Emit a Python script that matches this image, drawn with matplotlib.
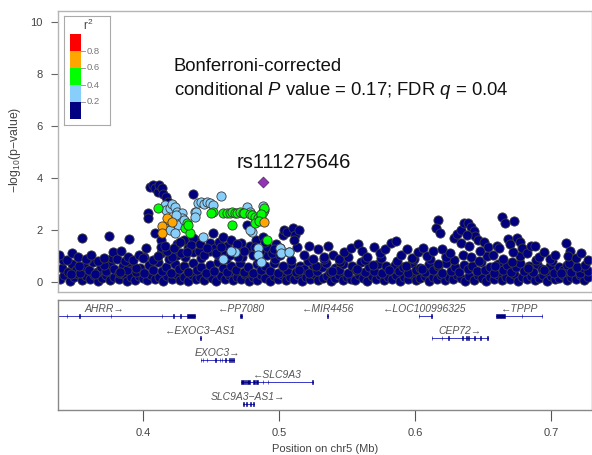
import matplotlib
matplotlib.use("Agg")
import matplotlib.pyplot as plt
from matplotlib.patches import Rectangle

plt.rcParams["font.family"] = ["Liberation Sans", "DejaVu Sans"]
plt.rcParams["mathtext.fontset"] = "custom"
plt.rcParams["mathtext.rm"] = "Liberation Sans"
plt.rcParams["mathtext.it"] = "Liberation Sans:italic"

#------- association data (position in Mb, -log10 p) -------#

# r2 < 0.2 : dense lower band
navy_low_x = [0.339, 0.342, 0.346, 0.349, 0.352, 0.355, 0.358, 0.361, 0.364, 0.367, 0.370, 0.373,
              0.376, 0.379, 0.382, 0.385, 0.388, 0.391, 0.394, 0.397, 0.400, 0.403, 0.406, 0.409,
              0.412, 0.415, 0.418, 0.421, 0.424, 0.427, 0.430, 0.433, 0.436, 0.439, 0.442, 0.445,
              0.448, 0.451, 0.454, 0.457, 0.460, 0.463, 0.466, 0.469, 0.472, 0.475, 0.478, 0.481,
              0.484, 0.487, 0.490, 0.493, 0.496, 0.499, 0.502, 0.505, 0.508, 0.511, 0.514, 0.517,
              0.520, 0.523, 0.526, 0.529, 0.532, 0.535, 0.538, 0.541, 0.544, 0.547, 0.550, 0.553,
              0.556, 0.559, 0.562, 0.565, 0.568, 0.571, 0.574, 0.577, 0.580, 0.583, 0.586, 0.589,
              0.592, 0.595, 0.598, 0.601, 0.604, 0.607, 0.610, 0.613, 0.616, 0.619, 0.622, 0.625,
              0.628, 0.631, 0.634, 0.637, 0.640, 0.643, 0.646, 0.649, 0.652, 0.655, 0.658, 0.661,
              0.664, 0.667, 0.670, 0.673, 0.676, 0.679, 0.682, 0.685, 0.688, 0.691, 0.694, 0.697,
              0.700, 0.703, 0.706, 0.709, 0.712, 0.715, 0.718, 0.721, 0.724, 0.727]
navy_low_y = [0.12, 0.25, 0.05, 0.18, 0.30, 0.08, 0.22, 0.10, 0.28, 0.04, 0.16, 0.26,
              0.07, 0.20, 0.12, 0.29, 0.03, 0.18, 0.09, 0.24, 0.14, 0.06, 0.27, 0.11,
              0.20, 0.05, 0.23, 0.13, 0.30, 0.08, 0.19, 0.04, 0.25, 0.12, 0.21, 0.07,
              0.28, 0.15, 0.03, 0.22, 0.10, 0.27, 0.06, 0.18, 0.12, 0.29, 0.05, 0.20,
              0.09, 0.25, 0.14, 0.04, 0.22, 0.11, 0.28, 0.07, 0.19, 0.13, 0.26, 0.05,
              0.21, 0.10, 0.30, 0.08, 0.17, 0.24, 0.04, 0.15, 0.27, 0.09, 0.20, 0.12,
              0.06, 0.25, 0.14, 0.03, 0.22, 0.10, 0.28, 0.07, 0.18, 0.13, 0.26, 0.05,
              0.21, 0.11, 0.29, 0.08, 0.16, 0.23, 0.04, 0.19, 0.12, 0.27, 0.06, 0.20,
              0.10, 0.25, 0.14, 0.03, 0.22, 0.09, 0.28, 0.16, 0.05, 0.21, 0.12, 0.26,
              0.07, 0.18, 0.11, 0.29, 0.04, 0.20, 0.13, 0.24, 0.08, 0.17, 0.27, 0.05,
              0.22, 0.10, 0.15, 0.26, 0.06, 0.19, 0.12, 0.28, 0.09, 0.21]

navy_mid_x = [0.3405, 0.3445, 0.3475, 0.3505, 0.3535, 0.3565, 0.3600, 0.3630, 0.3660, 0.3690,
              0.3725, 0.3755, 0.3790, 0.3820, 0.3850, 0.3885, 0.3915, 0.3950, 0.3980, 0.4010,
              0.4045, 0.4075, 0.4110, 0.4140, 0.4170, 0.4205, 0.4235, 0.4265, 0.4300, 0.4330,
              0.4365, 0.4395, 0.4425, 0.4460, 0.4490, 0.4520, 0.4555, 0.4585, 0.4615, 0.4650,
              0.4680, 0.4710, 0.4745, 0.4775, 0.4805, 0.4840, 0.4870, 0.4900, 0.4935, 0.4965,
              0.4995, 0.5030, 0.5060, 0.5090, 0.5125, 0.5155, 0.5185, 0.5220, 0.5250, 0.5280,
              0.5315, 0.5345, 0.5375, 0.5410, 0.5440, 0.5470, 0.5505, 0.5535, 0.5565, 0.5600,
              0.5630, 0.5660, 0.5695, 0.5725, 0.5755, 0.5790, 0.5820, 0.5850, 0.5885, 0.5915,
              0.5945, 0.5980, 0.6010, 0.6040, 0.6075, 0.6105, 0.6135, 0.6170, 0.6200, 0.6230,
              0.6265, 0.6295, 0.6325, 0.6360, 0.6390, 0.6420, 0.6455, 0.6485, 0.6515, 0.6550,
              0.6580, 0.6610, 0.6645, 0.6675, 0.6705, 0.6740, 0.6770, 0.6800, 0.6835, 0.6865,
              0.6895, 0.6930, 0.6960, 0.6990, 0.7025, 0.7055, 0.7085, 0.7120, 0.7150, 0.7180,
              0.7215, 0.7245, 0.7275]
navy_mid_y = [0.55, 0.40, 0.70, 0.48, 0.35, 0.62, 0.45, 0.75, 0.38, 0.58,
              0.42, 0.68, 0.50, 0.36, 0.60, 0.46, 0.72, 0.40, 0.55, 0.34,
              0.65, 0.48, 0.78, 0.42, 0.58, 0.36, 0.70, 0.50, 0.62, 0.40,
              0.74, 0.46, 0.56, 0.35, 0.66, 0.44, 0.76, 0.52, 0.38, 0.62,
              0.45, 0.72, 0.40, 0.58, 0.34, 0.68, 0.48, 0.60, 0.42, 0.74,
              0.36, 0.56, 0.46, 0.70, 0.39, 0.62, 0.50, 0.34, 0.66, 0.44,
              0.58, 0.72, 0.38, 0.54, 0.46, 0.68, 0.36, 0.60, 0.48, 0.76,
              0.40, 0.56, 0.44, 0.70, 0.35, 0.62, 0.50, 0.66, 0.42, 0.58,
              0.36, 0.72, 0.46, 0.54, 0.40, 0.68, 0.48, 0.60, 0.34, 0.74,
              0.44, 0.56, 0.38, 0.66, 0.50, 0.62, 0.42, 0.78, 0.46, 0.58,
              0.36, 0.70, 0.48, 0.64, 0.40, 0.56, 0.72, 0.44, 0.60, 0.38,
              0.68, 0.50, 0.42, 0.62, 0.36, 0.56, 0.46, 0.66, 0.40, 0.58,
              0.34, 0.52, 0.44]

navy_band_x = [0.3410, 0.3470, 0.3530, 0.3590, 0.3650, 0.3710, 0.3770, 0.3830, 0.3890, 0.3950,
               0.4010, 0.4070, 0.4130, 0.4190, 0.4250, 0.4310, 0.4370, 0.4430, 0.4490, 0.4550,
               0.4610, 0.4670, 0.4730, 0.4790, 0.4850, 0.4910, 0.4970, 0.5030, 0.5090, 0.5150,
               0.5210, 0.5270, 0.5330, 0.5390, 0.5450, 0.5510, 0.5570, 0.5630, 0.5690, 0.5750,
               0.5810, 0.5870, 0.5930, 0.5990, 0.6050, 0.6110, 0.6170, 0.6230, 0.6290, 0.6350,
               0.6410, 0.6470, 0.6530, 0.6590, 0.6650, 0.6710, 0.6770, 0.6830, 0.6890, 0.6950,
               0.7010, 0.7070, 0.7130, 0.7190, 0.7250]
navy_band_y = [0.85, 0.32, 0.60, 0.88, 0.30, 0.66, 0.92, 0.40, 0.78, 0.52,
               0.95, 0.86, 1.10, 0.90, 1.05, 0.98, 1.15, 0.92, 1.20, 1.02,
               0.88, 1.10, 0.95, 1.25, 0.82, 1.05, 0.90, 0.60, 0.85, 0.48,
               0.80, 0.62, 0.90, 0.42, 0.78, 0.95, 0.50, 0.84, 0.66, 0.92,
               0.45, 0.80, 0.62, 0.88, 0.50, 0.90, 0.70, 1.00, 0.84, 1.05,
               0.95, 0.82, 1.00, 0.60, 0.90, 0.75, 1.00, 0.55, 0.85, 0.48,
               0.80, 0.35, 0.72, 0.58, 0.66]

navy_up_x = [0.3386, 0.3440, 0.3480, 0.3520, 0.3550, 0.3580, 0.3620, 0.3670, 0.3710, 0.3750,
             0.3780, 0.3810, 0.3840, 0.3870, 0.3890, 0.3900, 0.3930, 0.3970, 0.4000, 0.4025,
             0.4040, 0.4040, 0.4050, 0.4070, 0.4090, 0.4110, 0.4120, 0.4140, 0.4150, 0.4170,
             0.4185, 0.4085, 0.4135, 0.4130, 0.4110, 0.4210, 0.4180, 0.4250, 0.4280, 0.4300,
             0.4330, 0.4364, 0.4390, 0.4370, 0.4350, 0.4410, 0.4450, 0.4489, 0.4511, 0.4530,
             0.4560, 0.4585, 0.4600, 0.4620, 0.4650, 0.4680, 0.4700, 0.4720, 0.4761, 0.4790,
             0.4810, 0.4830, 0.4860, 0.4880, 0.4910, 0.4950, 0.4980, 0.5004, 0.5026, 0.5040,
             0.5055, 0.5100, 0.5120, 0.5150, 0.5070, 0.5135, 0.5180, 0.5220, 0.5250, 0.5290,
             0.5330, 0.5360, 0.5400, 0.5440, 0.5480, 0.5530, 0.5580, 0.5610, 0.5650, 0.5700,
             0.5740, 0.5780, 0.5820, 0.5860, 0.5900, 0.5940, 0.5980, 0.6020, 0.6060, 0.6090,
             0.6130, 0.6166, 0.6155, 0.6180, 0.6200, 0.6230, 0.6260, 0.6290, 0.6310, 0.6340,
             0.6360, 0.6390, 0.6410, 0.6430, 0.6440, 0.6460, 0.6335, 0.6380, 0.6400, 0.6480,
             0.6510, 0.6540, 0.6570, 0.6600, 0.6640, 0.6665, 0.6730, 0.6620, 0.6680, 0.6700,
             0.6720, 0.6750, 0.6770, 0.6790, 0.6820, 0.6850, 0.6880, 0.6910, 0.6950, 0.6990,
             0.7030, 0.7110, 0.7140, 0.7125, 0.7180, 0.7220, 0.7270,
             0.4160, 0.4230, 0.4270, 0.4320, 0.4420, 0.4470, 0.4540, 0.4570, 0.4640, 0.4690,
             0.4740, 0.4820, 0.4900, 0.4960, 0.5010, 0.5110]
navy_up_y = [1.04, 0.85, 1.12, 0.95, 1.70, 0.90, 1.05, 0.82, 0.92, 1.77,
             1.15, 0.88, 1.18, 0.80, 0.95, 1.65, 0.85, 1.04, 0.92, 1.30,
             2.65, 2.45, 3.65, 3.72, 3.62, 3.45, 3.72, 3.60, 3.38, 3.25,
             3.08, 1.88, 1.60, 1.35, 1.00, 0.96, 1.20, 1.45, 1.10, 1.62,
             1.30, 3.40, 1.60, 1.70, 1.42, 1.20, 1.05, 1.50, 1.88, 1.30,
             1.55, 1.73, 1.10, 1.40, 1.62, 1.25, 0.98, 1.50, 2.20, 1.40,
             1.05, 1.60, 1.20, 1.73, 1.35, 1.10, 1.45, 1.30, 1.80, 2.00,
             1.92, 2.07, 1.80, 2.00, 1.15, 1.35, 1.05, 1.40, 0.90, 1.25,
             0.95, 1.38, 1.05, 0.88, 1.15, 1.30, 1.46, 1.20, 0.95, 1.35,
             1.10, 1.25, 1.50, 1.58, 1.05, 1.25, 0.92, 1.15, 1.30, 1.00,
             1.20, 2.40, 2.07, 1.90, 1.25, 0.95, 1.10, 1.70, 1.85, 2.00,
             2.25, 2.25, 2.10, 1.95, 1.75, 1.60, 1.50, 1.80, 1.40, 1.20,
             1.55, 1.35, 1.05, 1.40, 2.50, 2.27, 2.35, 1.30, 1.65, 1.45,
             1.15, 1.70, 1.55, 1.30, 1.10, 1.40, 1.40, 0.95, 1.15, 0.90,
             1.05, 1.50, 1.20, 1.00, 0.92, 1.10, 0.85,
             1.40, 1.30, 1.55, 1.15, 1.45, 1.30, 1.10, 1.35, 1.05, 1.45,
             1.20, 1.35, 1.55, 1.25, 1.05, 1.60]

# 0.2 <= r2 < 0.4
lblue_x = [0.4158, 0.4170, 0.4195, 0.4210, 0.4232, 0.4250, 0.4283, 0.4290, 0.4240, 0.4260,
           0.4158, 0.4195, 0.4232, 0.4300, 0.4379, 0.4393, 0.4380, 0.4401, 0.4430, 0.4450,
           0.4467, 0.4489, 0.4511, 0.4570, 0.4440, 0.4761, 0.4783, 0.4879, 0.4893, 0.4798,
           0.4783, 0.4673, 0.4650, 0.4585, 0.4842, 0.4842, 0.4871, 0.5004, 0.5018, 0.5077]
lblue_y = [2.96, 2.75, 2.85, 3.00, 2.88, 2.70, 2.65, 2.46, 2.58, 2.20,
           2.07, 2.00, 1.88, 2.38, 2.70, 2.70, 2.50, 3.04, 3.08, 3.00,
           3.08, 3.04, 2.96, 3.30, 1.73, 2.88, 2.70, 2.92, 2.77, 1.92,
           2.00, 1.15, 1.20, 0.88, 1.30, 1.04, 0.75, 1.30, 1.12, 1.15]

# 0.4 <= r2 < 0.6
green_x = [0.4107, 0.4320, 0.4310, 0.4342, 0.4330, 0.4511, 0.4500, 0.4585, 0.4614, 0.4636,
           0.4651, 0.4673, 0.4688, 0.4710, 0.4732, 0.4746, 0.4783, 0.4798, 0.4820, 0.4842,
           0.4871, 0.4879, 0.4893, 0.4871, 0.4651, 0.4820, 0.4850, 0.4915]
green_y = [2.85, 2.27, 2.07, 1.88, 2.20, 2.70, 2.65, 2.65, 2.65, 2.65,
           2.68, 2.65, 2.65, 2.68, 2.65, 2.65, 2.62, 2.58, 2.50, 2.46,
           2.50, 2.70, 2.85, 2.62, 2.20, 2.25, 2.35, 1.60]

# 0.6 <= r2 < 0.8
orange_x = [0.4180, 0.4210, 0.4136, 0.4143, 0.4886]
orange_y = [2.46, 2.30, 2.15, 1.88, 2.30]

lead_snp = "rs111275646"
lead_x = 0.4879
lead_y = 3.85

#------- genes -------#

gene_names = ["AHRR", "PP7080", "MIR4456", "LOC100996325", "TPPP",
              "EXOC3-AS1", "CEP72", "EXOC3", "SLC9A3", "SLC9A3-AS1"]
gene_strand = ["+", "-", "-", "-", "-", "-", "+", "+", "-", "+"]
gene_row = [0, 0, 0, 0, 0, 1, 1, 2, 3, 4]
gene_start = [0.3042, 0.4710, 0.5355, 0.6026, 0.6597, 0.4417, 0.6124, 0.4424, 0.4722, 0.4734]
gene_end = [0.4383, 0.4730, 0.5360, 0.6122, 0.6935, 0.4430, 0.6535, 0.4666, 0.5249, 0.4813]
gene_exons = [
    [(0.3042, 0.3046), (0.3438, 0.3442), (0.3533, 0.3537), (0.3761, 0.3765), (0.4136, 0.4140),
     (0.4222, 0.4227), (0.4274, 0.4279), (0.4327, 0.4383)],
    [(0.4710, 0.4730)],
    [(0.5355, 0.5360)],
    [(0.6026, 0.6031), (0.6117, 0.6122)],
    [(0.6597, 0.6663), (0.6783, 0.6787), (0.6931, 0.6935)],
    [(0.4417, 0.4430)],
    [(0.6124, 0.6128), (0.6195, 0.6199), (0.6244, 0.6248), (0.6345, 0.6350), (0.6374, 0.6380),
     (0.6391, 0.6396), (0.6435, 0.6440), (0.6480, 0.6484), (0.6531, 0.6535)],
    [(0.4424, 0.4428), (0.4439, 0.4443), (0.4469, 0.4473), (0.4528, 0.4533), (0.4563, 0.4567),
     (0.4579, 0.4584), (0.4606, 0.4611), (0.4631, 0.4636), (0.4650, 0.4655), (0.4661, 0.4666)],
    [(0.4722, 0.4745), (0.4752, 0.4760), (0.4768, 0.4783), (0.4805, 0.4825), (0.4832, 0.4849),
     (0.4879, 0.4883), (0.4916, 0.4920), (0.5245, 0.5249)],
    [(0.4734, 0.4745), (0.4760, 0.4768), (0.4785, 0.4795), (0.4805, 0.4813)],
]

r2_colors = ["#000080", "#87CEFA", "#00FF00", "#FFA500", "#FF0000"]
r2_breaks = ["0.2", "0.4", "0.6", "0.8"]

#------- figure -------#

W, H = 592, 455
fig = plt.figure(figsize=(W / 100, H / 100), dpi=100)

def px_axes(x0, y0, x1, y1):
    return fig.add_axes([x0 / W, 1 - y1 / H, (x1 - x0) / W, (y1 - y0) / H])

xlo, xhi = 0.3375, 0.7301
ax = px_axes(58, 11, 592, 292)
ax.set_xlim(xlo, xhi)
ax.set_ylim(-0.385, 10.42)

kw = dict(s=44, edgecolors="#3a3a3a", linewidths=0.6)
ax.scatter(navy_low_x, navy_low_y, c=r2_colors[0], zorder=2, **kw)
ax.scatter(navy_mid_x, navy_mid_y, c=r2_colors[0], zorder=2, **kw)
ax.scatter(navy_band_x, navy_band_y, c=r2_colors[0], zorder=2, **kw)
ax.scatter(navy_up_x, navy_up_y, c=r2_colors[0], zorder=2, **kw)
ax.scatter(lblue_x, lblue_y, c=r2_colors[1], zorder=3, **kw)
ax.scatter(green_x, green_y, c=r2_colors[2], zorder=4, **kw)
ax.scatter(orange_x, orange_y, c=r2_colors[3], zorder=5, **kw)
ax.scatter([lead_x], [lead_y], marker="D", s=30, c="#9632B8", edgecolors="#5a2a70",
           linewidths=0.6, zorder=6)
ax.text(0.5111, 4.58, lead_snp, ha="center", va="center", fontsize=14.5, color="#111111")

ax.text(0.4225, 8.27, "Bonferroni-corrected", fontsize=13.3, va="center", color="#111111")
ax.text(0.4225, 7.38, r"conditional $\mathit{P}$ value = 0.17; FDR $\mathit{q}$ = 0.04",
        fontsize=13.3, va="center", color="#111111")

ax.set_xticks([])
ax.set_yticks([0, 2, 4, 6, 8, 10])
ax.tick_params(axis="y", length=5, color="#666666", labelcolor="#444444", labelsize=8, pad=6)
for sp in ax.spines.values():
    sp.set_color("#b5b5b5")
    sp.set_linewidth(1)

fig.text(15 / W, 1 - 150 / H, r"$-$log$_{10}$(p$-$value)", rotation=90, ha="center", va="center",
         fontsize=8.8, color="#444444")

# r2 legend
lg = px_axes(64, 16, 110, 125)
lg.set_xlim(64, 110)
lg.set_ylim(125, 16)
lg.set_xticks([])
lg.set_yticks([])
for sp in lg.spines.values():
    sp.set_color("#aaaaaa")
for i, col in enumerate(r2_colors):
    top = 119 - 17 * (i + 1)
    lg.add_patch(Rectangle((70, top), 11, 17, facecolor=col, edgecolor="none"))
for i, lab in enumerate(r2_breaks):
    yb = 119 - 17 * (i + 1)
    lg.plot([81, 85], [yb, yb], color="#888888", lw=0.6)
    lg.text(86.5, yb, lab, fontsize=6.8, color="#777777", va="center")
lg.text(88, 25, r"r$^2$", fontsize=8.5, color="#444444", ha="center", va="center")

# gene track
gx = px_axes(58, 300, 592, 410)
gx.set_xlim(xlo, xhi)
gx.set_ylim(4.27, -0.73)
gx.set_yticks([])
gx.set_xticks([0.4, 0.5, 0.6, 0.7])
gx.set_xticklabels(["0.4", "0.5", "0.6", "0.7"])
gx.tick_params(axis="x", length=8, color="#555555", labelcolor="#444444", labelsize=8, pad=5)
gx.set_xlabel("Position on chr5 (Mb)", fontsize=8, color="#444444", labelpad=4)
for sp in gx.spines.values():
    sp.set_color("#888888")
    sp.set_linewidth(1)

for name, strand, row, g0, g1, exons in zip(gene_names, gene_strand, gene_row,
                                            gene_start, gene_end, gene_exons):
    gx.plot([g0, g1], [row, row], color="#3838c8", lw=0.7, zorder=2)
    for e0, e1 in exons:
        gx.add_patch(Rectangle((e0, row - 0.11), e1 - e0, 0.22, facecolor="#000080",
                               edgecolor="#000080", lw=0.4, zorder=3))
    label = name.replace("-", "\u2212") + "\u2192" if strand == "+" else "\u2190" + name.replace("-", "\u2212")
    gx.text((g0 + g1) / 2, row - 0.33, label, ha="center", va="center", fontsize=7.5,
            style="italic", color="#555555")

fig.savefig("out.png", dpi=100)
